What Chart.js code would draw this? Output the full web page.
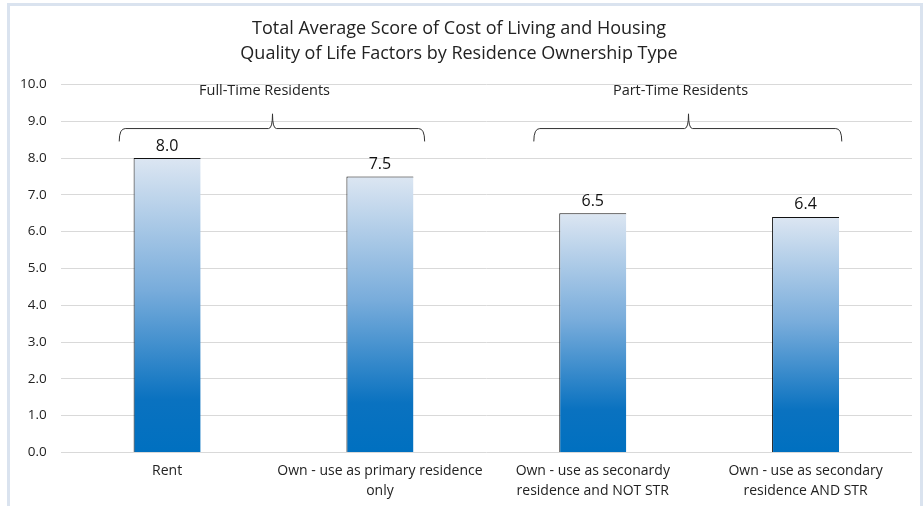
<!DOCTYPE html>
<html>
<head>
<meta charset="utf-8">
<script src="https://cdn.jsdelivr.net/npm/chart.js@4.4.1/dist/chart.umd.min.js"></script>
<style>
  html, body { margin: 0; padding: 0; background: #fff; }
  #wrap { width: 924px; height: 506px; position: relative; }
</style>
</head>
<body>
<div id="wrap"><canvas id="score-chart" width="924" height="506"></canvas></div>
<script>
// ownership types on the x axis
var categories = [
    ['Rent'],
    ['Own - use as primary residence', 'only'],
    ['Own - use as seconardy', 'residence and NOT STR'],
    ['Own - use as secondary', 'residence AND STR']
];
var scores = [8.0, 7.5, 6.5, 6.4];
var yTicks = [0, 1, 2, 3, 4, 5, 6, 7, 8, 9, 10];

// resident groups drawn as braces over the bars
var groupNames = ['Full-Time Residents', 'Part-Time Residents'];
var groupFirst = [0, 2];
var groupLast = [1, 3];

var FONT = '"Open Sans", "Noto Sans", sans-serif';

// brace extents past the first / last bar centre, in category widths
var braceLeft = [-0.225, -0.277];
var braceRight = [0.21, 0.17];

// light blue frame round the whole chart
var framePlugin = {
    id: 'frame',
    beforeDraw: function (chart) {
        var c = chart.ctx;
        c.save();
        c.fillStyle = '#fff';
        c.fillRect(0, 0, chart.width, chart.height);
        c.strokeStyle = '#dae3ef';
        c.lineWidth = 3;
        c.beginPath();
        c.moveTo(8.5, chart.height + 2);
        c.lineTo(8.5, 4.5);
        c.lineTo(921.5, 4.5);
        c.lineTo(921.5, chart.height + 2);
        c.stroke();
        c.restore();
    }
};

// value labels above each bar
var valueLabels = {
    id: 'valueLabels',
    afterDatasetsDraw: function (chart) {
        var c = chart.ctx;
        var meta = chart.getDatasetMeta(0);
        c.save();
        c.font = '16px ' + FONT;
        c.fillStyle = '#111';
        c.textAlign = 'center';
        c.textBaseline = 'bottom';
        meta.data.forEach(function (bar, i) {
            c.fillText(scores[i].toFixed(1), bar.x, bar.y - 4);
        });
        c.restore();
    }
};

// curly braces with group names
var groupBraces = {
    id: 'groupBraces',
    afterDatasetsDraw: function (chart) {
        var c = chart.ctx;
        var x = chart.scales.x, y = chart.scales.y;
        var yMid = y.getPixelForValue(8.8);
        var yEnd = y.getPixelForValue(8.45);
        var yTip = y.getPixelForValue(9.2);
        var yText = y.getPixelForValue(9.83);
        c.save();
        c.strokeStyle = '#333';
        c.lineWidth = 1;
        groupNames.forEach(function (name, g) {
            var x0 = x.getPixelForValue(groupFirst[g] + braceLeft[g]);
            var x1 = x.getPixelForValue(groupLast[g] + braceRight[g]);
            var xm = Math.round((x0 + x1) / 2) + 0.5;
            c.beginPath();
            c.moveTo(x0, yEnd);
            c.quadraticCurveTo(x0, yMid, x0 + 6, yMid);
            c.lineTo(xm - 4, yMid);
            c.quadraticCurveTo(xm, yMid, xm, yTip);
            c.quadraticCurveTo(xm, yMid, xm + 4, yMid);
            c.lineTo(x1 - 6, yMid);
            c.quadraticCurveTo(x1, yMid, x1, yEnd);
            c.stroke();
            c.font = '14.5px ' + FONT;
            c.fillStyle = '#222';
            c.textAlign = 'center';
            c.textBaseline = 'middle';
            c.fillText(name, xm - 8, yText);
        });
        c.restore();
    }
};

// light top fading to solid blue near the base
function barGradient(ctx) {
    var chart = ctx.chart;
    if (!chart.chartArea) return '#0070c0';
    var y = chart.scales.y;
    var top = y.getPixelForValue(scores[ctx.dataIndex]);
    var bottom = y.getPixelForValue(0);
    var g = chart.ctx.createLinearGradient(0, top, 0, bottom);
    g.addColorStop(0, '#dce6f2');
    g.addColorStop(0.45, '#78acdb');
    g.addColorStop(0.82, '#0a72c0');
    g.addColorStop(1, '#0070c0');
    return g;
}

var chart = new Chart(document.getElementById('score-chart').getContext('2d'), {
    type: 'bar',
    data: {
        labels: categories,
        datasets: [{
            data: scores,
            backgroundColor: barGradient,
            borderColor: '#111',
            borderWidth: { top: 1, left: 1, right: 0, bottom: 0 },
            borderSkipped: 'bottom',
            categoryPercentage: 1,
            barPercentage: 0.315
        }]
    },
    options: {
        responsive: false,
        animation: false,
        layout: { padding: { left: 6, right: 12, top: 0, bottom: -3 } },
        plugins: {
            legend: { display: false },
            tooltip: { enabled: false },
            title: {
                display: true,
                text: ['Total Average Score of Cost of Living and Housing',
                       'Quality of Life Factors by Residence Ownership Type'],
                color: '#222',
                font: { family: FONT, size: 18, weight: 'normal', lineHeight: 1.4 },
                padding: { top: 16, bottom: 18 }
            }
        },
        scales: {
            x: {
                grid: { display: false, drawTicks: false },
                border: { display: false },
                ticks: {
                    color: '#222',
                    font: { family: FONT, size: 14, lineHeight: 1.45 },
                    maxRotation: 0,
                    padding: 8
                }
            },
            y: {
                min: 0,
                max: 10,
                afterBuildTicks: function (axis) {
                    axis.ticks = yTicks.map(function (v) { return { value: v }; });
                },
                grid: { color: '#d9d9d9', drawTicks: false },
                border: { display: false },
                ticks: {
                    color: '#222',
                    font: { family: FONT, size: 13.5 },
                    padding: 14,
                    callback: function (v) { return v.toFixed(1); }
                }
            }
        }
    },
    plugins: [framePlugin, valueLabels, groupBraces]
});
</script>
</body>
</html>
